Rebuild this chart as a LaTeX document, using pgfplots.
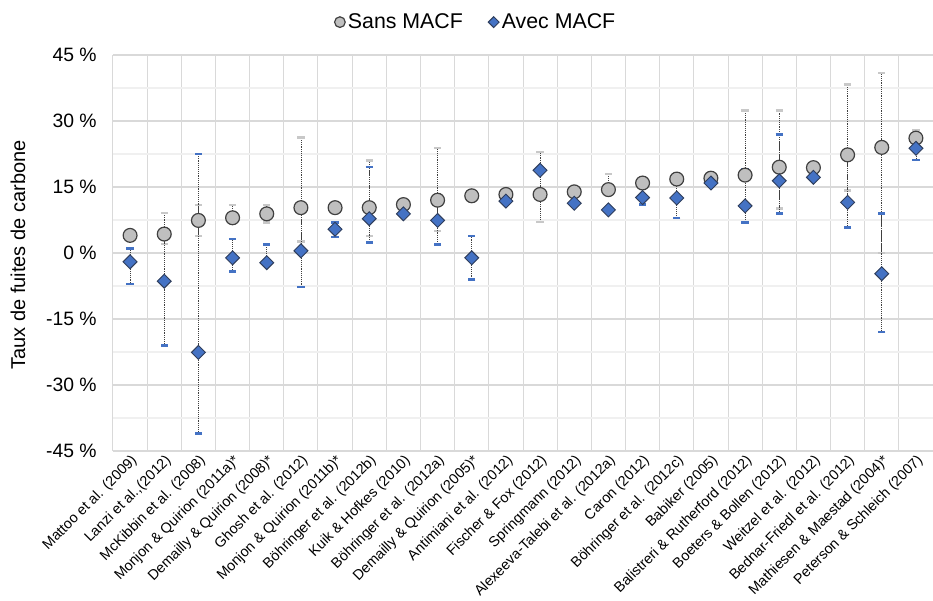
\documentclass[border=0pt]{standalone}
\usepackage{fontspec}
\setmainfont{Liberation Sans}
\usepackage{pgfplots}
\pgfplotsset{compat=1.18}
\usepackage{pgfplotstable}

\definecolor{mgrey}{HTML}{BFBFBF}
\definecolor{medge}{HTML}{404040}
\definecolor{mblue}{HTML}{4472C4}
\definecolor{bedge}{HTML}{2F3E5C}
\definecolor{capgrey}{HTML}{C8C8C8}
\definecolor{capblue}{HTML}{4472C4}
\definecolor{gridmaj}{HTML}{D9D9D9}
\definecolor{gridmin}{HTML}{F0F0F0}

\pgfplotstableread{
x sans sp sm avec ap am
0 4.0 0 0 -2.0 3.0 5.0
1 4.3 4.8 2.3 -6.4 10.6 14.6
2 7.4 3.5 3.5 -22.6 45.1 18.4
3 8.0 2.9 0 -1.1 4.3 3.1
4 8.9 2.0 2.0 -2.2 4.1 0
5 10.3 15.9 7.7 0.5 8.9 8.2
6 10.3 0 0 5.4 1.5 1.8
7 10.3 10.7 6.4 7.8 11.7 5.4
8 11.0 0 0 8.9 0 0
9 12.0 11.9 7.0 7.4 4.6 5.5
10 13.0 0 0 -1.1 5.0 4.9
11 13.3 0 0 11.8 0 0
12 13.3 9.7 6.3 18.8 0 0
13 13.9 0 0 11.3 0 0
14 14.4 3.6 0 9.8 0 0
15 15.9 0 0 12.6 0 1.6
16 16.8 0 0 12.5 3.4 4.5
17 17.0 0 0 15.9 0 0
18 17.7 14.7 0 10.7 8.3 3.8
19 19.5 12.9 9.4 16.4 10.5 7.4
20 19.4 0 0 17.2 0 0
21 22.3 16.0 8.1 11.5 11.5 5.7
22 24.0 16.9 24.0 -4.7 13.7 13.3
23 26.1 1.9 0 23.8 3.1 2.7
}\data

\begin{document}
\begin{tikzpicture}
\begin{axis}[name=ax,
  scale only axis, width=615pt, height=297pt,
  xmin=-0.5, xmax=23.5, ymin=-45, ymax=45,
  axis line style={draw=none},
  tick style={draw=none},
  xtick={0,...,23},
  xticklabels={Mattoo et al. (2009), {Lanzi et al.,(2012)}, McKibbin et al. (2008), Monjon \& Quirion (2011a)*, Demailly \& Quirion (2008)*, Ghosh et al. (2012), Monjon \& Quirion (2011b)*, Böhringer et al. (2012b), Kuik \& Hofkes (2010), Böhringer et al. (2012a), Demailly \& Quirion (2005)*, Antimiani et al. (2012), Fischer \& Fox (2012), Springmann (2012), Alexeeva-Talebi et al. (2012a), Caron (2012), Böhringer et al. (2012c), Babiker (2005), Balistreri \& Rutherford (2012), Boeters \& Bollen (2012), Weitzel et al. (2012), Bednar-Friedl et al. (2012), Mathiesen \& Maestad (2004)*, Peterson \& Schleich (2007)},
  xticklabel style={rotate=45, anchor=east, font=\fontsize{10.8}{13}\selectfont, yshift=-6.5pt, xshift=2pt},
  minor xtick={-0.5,0.5,...,23.5},
  xminorgrids, minor x grid style={gridmaj, line width=0.75pt},
  ytick={-45,-30,...,45},
  yticklabels={-45 \%,-30 \%,-15 \%,0 \%,15 \%,30 \%,45 \%},
  yticklabel style={font=\fontsize{14.5}{17}\selectfont, xshift=-8.7pt},
  ymajorgrids, major y grid style={gridmaj, line width=1.3pt},
  minor ytick={-37.5,-22.5,...,37.5},
  yminorgrids, minor y grid style={gridmin, line width=1pt},
  ylabel={Taux de fuites de carbone},
  ylabel style={at={(axis description cs:-0.116,0.495)}, anchor=center, font=\fontsize{15}{18}\selectfont},
  legend style={at={(axis description cs:0.443,1.083)}, anchor=center, draw=none, fill=none,
    legend columns=2, font=\fontsize{16}{19}\selectfont,
    /tikz/every even column/.append style={column sep=17pt}},
  clip=false,
]
% grey error bars
\addplot[draw=none, mark=none, forget plot,
  error bars/.cd, y dir=both, y explicit,
  error bar style={draw=black!75, densely dotted, line width=0.6pt},
  error mark=|,
  error mark options={draw=capgrey, solid, line width=1.9pt, mark size=2.7pt}]
  table[x=x, y=sans, y error plus=sp, y error minus=sm] {\data};
\addplot[only marks, mark=*, mark size=5.2pt,
  mark options={fill=mgrey, draw=medge, line width=0.9pt},
  legend image post style={mark size=4pt}]
  table[x=x, y=sans] {\data};
\addlegendentry{Sans MACF}
% blue error bars
\addplot[draw=none, mark=none, forget plot,
  error bars/.cd, y dir=both, y explicit,
  error bar style={draw=black!75, densely dotted, line width=0.6pt},
  error mark=|,
  error mark options={draw=capblue, solid, line width=1.9pt, mark size=2.7pt}]
  table[x=x, y=avec, y error plus=ap, y error minus=am] {\data};
\addplot[only marks, mark=square*, mark size=3.7pt,
  mark options={fill=mblue, draw=bedge, line width=0.7pt, rotate=45},
  legend image post style={mark size=2.9pt}]
  table[x=x, y=avec] {\data};
\addlegendentry{Avec MACF}
\end{axis}
\pgfresetboundingbox
\path ([xshift=-84.75pt, yshift=-112.5pt]ax.south west) rectangle ([yshift=41.25pt]ax.north east);
\end{tikzpicture}
\end{document}
